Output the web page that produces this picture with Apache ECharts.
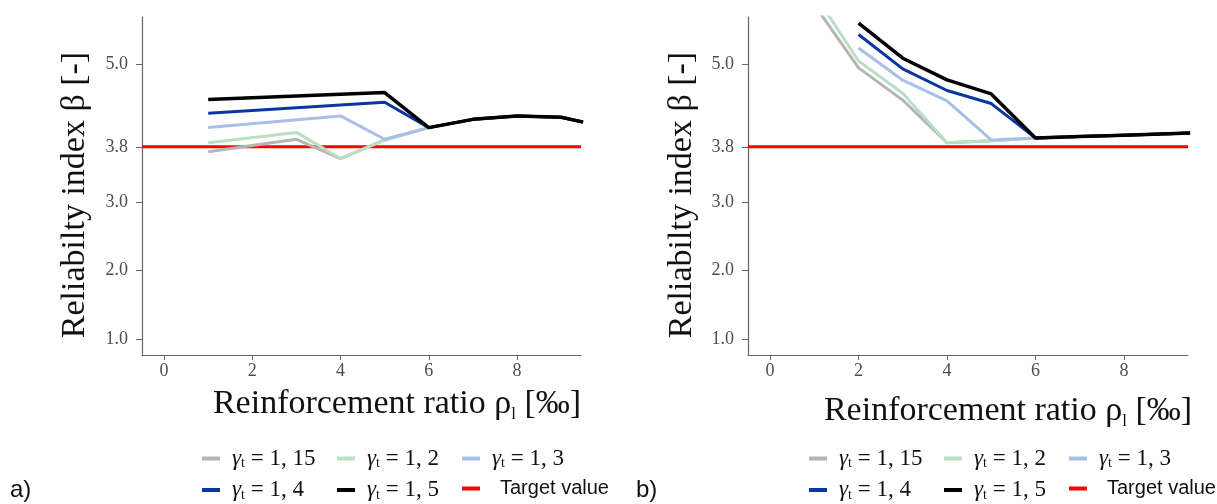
<!DOCTYPE html>
<html>
<head>
<meta charset="utf-8">
<script src="https://cdn.jsdelivr.net/npm/echarts@6/dist/echarts.min.js"></script>
<style>
html,body{margin:0;padding:0;background:#fff;}
#chart{width:1217px;height:504px;}
</style>
</head>
<body>
<div id="chart"></div>
<script>
// ---- data ----
var xValues = [1, 2, 3, 4, 5, 6, 7, 8, 9, 9.5];
var seriesNames = ['γt = 1, 15', 'γt = 1, 2', 'γt = 1, 3', 'γt = 1, 4', 'γt = 1, 5'];
var targetName = 'Target value';
var targetValue = 3.8;

// panel a)
var a_g115 = [3.73, null, 3.91, 3.63, 3.90, 4.08, 4.20, 4.25, 4.23, 4.16];
var a_g12  = [3.86, null, 4.01, 3.63, 3.90, 4.08, 4.20, 4.25, 4.23, 4.16];
var a_g13  = [4.08, null, null, 4.25, 3.91, 4.08, 4.20, 4.25, 4.23, 4.16];
var a_g14  = [4.29, null, null, null, 4.45, 4.08, 4.20, 4.25, 4.23, 4.16];
var a_g15  = [4.49, null, null, null, 4.59, 4.08, 4.20, 4.25, 4.23, 4.16];

// panel b)
var b_g115 = [5.87, 4.95, 4.48, 3.86, 3.89, 3.93, 3.95, 3.97, 3.99, 4.00];
var b_g12  = [6.03, 5.05, 4.58, 3.86, 3.89, 3.93, 3.95, 3.97, 3.99, 4.00];
var b_g13  = [null, 5.24, 4.77, 4.47, 3.90, 3.93, 3.95, 3.97, 3.99, 4.00];
var b_g14  = [null, 5.435, 4.935, 4.62, 4.43, 3.93, 3.95, 3.97, 3.99, 4.00];
var b_g15  = [null, 5.60, 5.09, 4.775, 4.57, 3.93, 3.95, 3.97, 3.99, 4.00];

var xTicks = [0, 2, 4, 6, 8];
var yTicks = [1.0, 2.0, 3.0, 3.8, 5.0];
var xRange = [-0.5, 9.45];
var yRange = [0.77, 5.69];

// ---- styles ----
var colors = ['#b5b5b5', '#b9dfc4', '#a9c0e6', '#0b369f', '#000000'];
var widths = [3, 3, 3, 3, 3.5];
var targetColor = '#ff0000';
var serif = 'Liberation Serif';
var sans = 'Liberation Sans';

function pairs(arr) {
  return arr.map(function (v, i) { return [xValues[i], v]; });
}

function makeSeries(idx, datasets) {
  var out = datasets.map(function (d, i) {
    return {
      name: seriesNames[i], type: 'line', xAxisIndex: idx, yAxisIndex: idx,
      data: pairs(d), showSymbol: false, symbol: 'none', connectNulls: true,
      clip: true, silent: true, animation: false,
      lineStyle: { color: colors[i], width: widths[i] },
      itemStyle: { color: colors[i] }
    };
  });
  out.push({
    name: targetName, type: 'line', xAxisIndex: idx, yAxisIndex: idx,
    data: [[xRange[0], targetValue], [xRange[1], targetValue]],
    showSymbol: false, symbol: 'none', silent: true, animation: false, z: 1,
    lineStyle: { color: targetColor, width: 3 }, itemStyle: { color: targetColor }
  });
  return out;
}

function xAxis(idx) {
  return {
    type: 'value', gridIndex: idx, min: xRange[0], max: xRange[1],
    axisLine: { show: true, onZero: false, lineStyle: { color: '#666', width: 1.2 } },
    axisTick: { show: true, customValues: xTicks, length: 5, lineStyle: { color: '#666' } },
    axisLabel: { customValues: xTicks, margin: 7, color: '#4d4d4d', fontSize: 18, fontFamily: serif },
    splitLine: { show: false }
  };
}
function yAxis(idx) {
  return {
    type: 'value', gridIndex: idx, min: yRange[0], max: yRange[1],
    axisLine: { show: true, onZero: false, lineStyle: { color: '#666', width: 1.2 } },
    axisTick: { show: true, customValues: yTicks, length: 6, lineStyle: { color: '#666' } },
    axisLabel: { customValues: yTicks, margin: 14, color: '#4d4d4d', fontSize: 18, fontFamily: serif,
      formatter: function (v) { return Number(v).toFixed(1); } },
    splitLine: { show: false }
  };
}

var legendRich = {
  g: { fontFamily: serif, fontStyle: 'italic', fontSize: 23, color: '#111', padding: [0, 0, 0, 7], lineHeight: 24 },
  s: { fontFamily: serif, fontSize: 14, color: '#111', verticalAlign: 'bottom', lineHeight: 24 },
  n: { fontFamily: serif, fontSize: 23, color: '#111', lineHeight: 24 },
  tv: { fontFamily: sans, fontSize: 20, color: '#111', padding: [0, 0, 0, 15], lineHeight: 24 }
};
function legendFormatter(name) {
  if (name === targetName) return '{tv|' + name + '}';
  var rest = name.slice(2);
  return '{g|γ}{s|t}{n|' + rest + '}';
}
function legend(left, names) {
  return {
    orient: 'vertical', left: left, top: 447, itemWidth: 18, itemHeight: 4, itemGap: 8,
    icon: 'rect', data: names, selectedMode: false, padding: 0,
    formatter: legendFormatter, textStyle: { rich: legendRich }
  };
}

function titleText(x, y) {
  return {
    type: 'text', x: x, y: y, silent: true,
    style: {
      text: '{m|Reinforcement ratio }{m|ρ}{sub|l}{m| [‰]}',
      align: 'center', verticalAlign: 'middle',
      rich: {
        m: { fontFamily: serif, fontSize: 34, fill: '#111', lineHeight: 38 },
        sub: { fontFamily: serif, fontSize: 17, fill: '#111', verticalAlign: 'bottom', lineHeight: 38 }
      }
    }
  };
}
function yTitle(x, y) {
  return {
    type: 'text', x: x, y: y, rotation: Math.PI / 2, silent: true,
    style: { text: 'Reliabilty index β [-]', fontFamily: serif, fontSize: 34, fill: '#111',
      align: 'center', verticalAlign: 'middle' }
  };
}

var option = {
  backgroundColor: '#ffffff',
  animation: false,
  grid: [
    { left: 142, top: 17, width: 439, height: 338 },
    { left: 748, top: 17, width: 440, height: 338 }
  ],
  xAxis: [xAxis(0), xAxis(1)],
  yAxis: [yAxis(0), yAxis(1)],
  legend: [
    legend(202, [seriesNames[0], seriesNames[3]]),
    legend(337, [seriesNames[1], seriesNames[4]]),
    legend(462, [seriesNames[2], targetName]),
    legend(809, [seriesNames[0], seriesNames[3]]),
    legend(944, [seriesNames[1], seriesNames[4]]),
    legend(1069, [seriesNames[2], targetName])
  ],
  graphic: [
    yTitle(75, 195),
    yTitle(682, 195),
    titleText(397, 404),
    titleText(1008, 411),
    { type: 'text', x: 10, y: 490, silent: true,
      style: { text: 'a)', fontFamily: sans, fontSize: 24, fill: '#111', verticalAlign: 'middle' } },
    { type: 'text', x: 636, y: 490, silent: true,
      style: { text: 'b)', fontFamily: sans, fontSize: 24, fill: '#111', verticalAlign: 'middle' } }
  ],
  series: [].concat(
    makeSeries(0, [a_g115, a_g12, a_g13, a_g14, a_g15]),
    makeSeries(1, [b_g115, b_g12, b_g13, b_g14, b_g15])
  )
};

var chart = echarts.init(document.getElementById('chart'), null, { renderer: 'canvas' });
chart.setOption(option);
</script>
</body>
</html>
